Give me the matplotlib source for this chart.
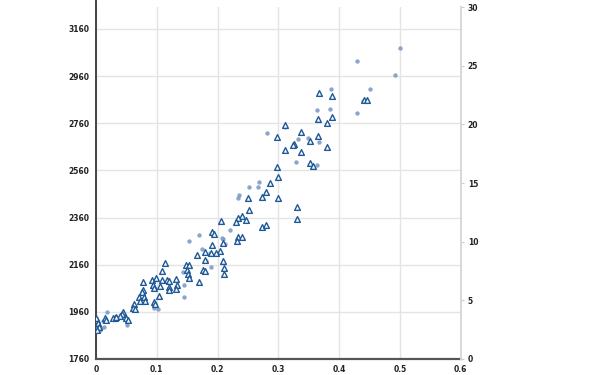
import matplotlib
matplotlib.use("Agg")
import matplotlib.pyplot as plt
from matplotlib.lines import Line2D

# circles (series A)
circ_x = [0.500, 0.429, 0.4915, 0.450, 0.439, 0.429, 0.386, 0.363, 0.385, 0.3485,
          0.3666, 0.363, 0.281, 0.311, 0.332, 0.329, 0.268, 0.266, 0.2515, 0.235,
          0.233, 0.220, 0.207, 0.153, 0.169, 0.174, 0.187, 0.209, 0.212, 0.181,
          0.189, 0.143, 0.1447, 0.1447, 0.095, 0.102, 0.018, 0.051, 0.008, 0.0115,
          0.0066, 0.044, 0.013]
circ_y = [3079, 3024, 2965, 2905, 2855, 2804, 2905, 2816, 2821, 2698,
          2681, 2583, 2719, 2744, 2693, 2596, 2511, 2490, 2490, 2456,
          2443, 2307, 2273, 2261, 2286, 2227, 2210, 2269, 2248, 2176,
          2150, 2129, 2074, 2023, 1976, 1972, 1959, 1904, 1892, 1921,
          1883, 1951, 1896]

# triangles (series B)
tri_x = [0.3666, 0.388, 0.441, 0.4455, 0.365, 0.388, 0.380, 0.337, 0.365, 0.352,
         0.380, 0.337, 0.352, 0.357, 0.311, 0.2976, 0.3255, 0.3235, 0.311, 0.2976,
         0.299, 0.286, 0.2795, 0.250, 0.273, 0.299, 0.330, 0.2515, 0.330, 0.240,
         0.233, 0.2466, 0.230, 0.2055, 0.273, 0.2795, 0.233, 0.240, 0.191, 0.194,
         0.232, 0.191, 0.209, 0.179, 0.204, 0.197, 0.189, 0.166, 0.179, 0.209,
         0.113, 0.148, 0.153, 0.1496, 0.176, 0.179, 0.210, 0.1085, 0.151, 0.210,
         0.077, 0.092, 0.0986, 0.1085, 0.1167, 0.120, 0.1315, 0.153, 0.169, 0.0937,
         0.105, 0.120, 0.133, 0.077, 0.095, 0.120, 0.1036, 0.1315, 0.0756, 0.079,
         0.0707, 0.0806, 0.072, 0.0625, 0.061, 0.064, 0.095, 0.097,
         0.044, 0.043, 0.039, 0.031, 0.028, 0.033, 0.049, 0.0526, 0.0148, 0.0164,
         0.0016, 0.0016, 0.0, 0.0033, 0.0049, 0.0016, 0.0]
tri_y = [2888, 2876, 2859, 2859, 2778, 2787, 2761, 2723, 2706, 2685,
         2659, 2638, 2592, 2579, 2753, 2702, 2672, 2668, 2647, 2575,
         2532, 2507, 2468, 2443, 2447, 2443, 2405, 2392, 2354, 2367,
         2358, 2350, 2341, 2345, 2320, 2328, 2278, 2278, 2299, 2290,
         2261, 2244, 2252, 2214, 2218, 2210, 2210, 2201, 2180, 2176,
         2167, 2159, 2159, 2138, 2138, 2133, 2146, 2133, 2121, 2121,
         2087, 2095, 2104, 2095, 2095, 2091, 2099, 2104, 2087, 2074,
         2070, 2065, 2074, 2053, 2061, 2053, 2027, 2057, 2044, 2023,
         2023, 2006, 2006, 1993, 1976, 1972, 2002, 1993,
         1959, 1951, 1942, 1934, 1934, 1938, 1934, 1925, 1934, 1925,
         1925, 1904, 1892, 1913, 1896, 1883, 1934]

x_ticks = [0, 0.1, 0.2, 0.3, 0.4, 0.5, 0.6]
x_labels = ["0", "0.1", "0.2", "0.3", "0.4", "0.5", "0.6"]
left_ticks = [1760, 1960, 2160, 2360, 2560, 2760, 2960, 3160]
right_ticks = [0, 5, 10, 15, 20, 25, 30]

plt.rcParams['font.family'] = ['DejaVu Sans']

fig = plt.figure(figsize=(6, 3.75), dpi=100)
ax = fig.add_axes([0.16, 0.0427, 0.608, 0.9386])

ax.set_xlim(0, 0.6)
ax.set_ylim(1760, 3253)
ax.set_xticks(x_ticks)
ax.set_xticklabels(x_labels)
ax.set_yticks(left_ticks)
ax.grid(True, color='#e4e4e4', linewidth=1.0)
ax.set_axisbelow(True)

ax.scatter(circ_x, circ_y, s=10, color='#7f9bc8', alpha=0.9, linewidths=0, zorder=3)
ax.scatter(tri_x, tri_y, s=17, marker='^', facecolors='white',
           edgecolors='#1f5896', linewidths=1.0, zorder=4)

for side in ['top', 'right']:
    ax.spines[side].set_visible(False)
ax.spines['left'].set_color('#444444')
ax.spines['left'].set_linewidth(1.4)
ax.spines['bottom'].set_color('#555555')
ax.spines['bottom'].set_linewidth(1.6)
ax.tick_params(axis='both', length=0, labelsize=5.5, labelcolor='#222222')
ax.tick_params(axis='y', pad=5)
ax.tick_params(axis='x', pad=4)
for lab in ax.get_xticklabels() + ax.get_yticklabels():
    lab.set_fontweight('semibold')

ax2 = ax.twinx()
ax2.set_ylim(0, 30)
ax2.set_yticks(right_ticks)
for side in ['top', 'left', 'bottom']:
    ax2.spines[side].set_visible(False)
ax2.spines['right'].set_color('#d8d8d8')
ax2.spines['right'].set_linewidth(1.4)
ax2.tick_params(axis='y', length=2, color='#cccccc', labelsize=5.5,
                labelcolor='#222222', pad=3)
for lab in ax2.get_yticklabels():
    lab.set_fontweight('semibold')

# left axis line runs up to the top edge of the figure
fig.add_artist(Line2D([0.16, 0.16], [0.98, 1.0], color='#444444', linewidth=1.4))

fig.savefig("out.png", dpi=100)
